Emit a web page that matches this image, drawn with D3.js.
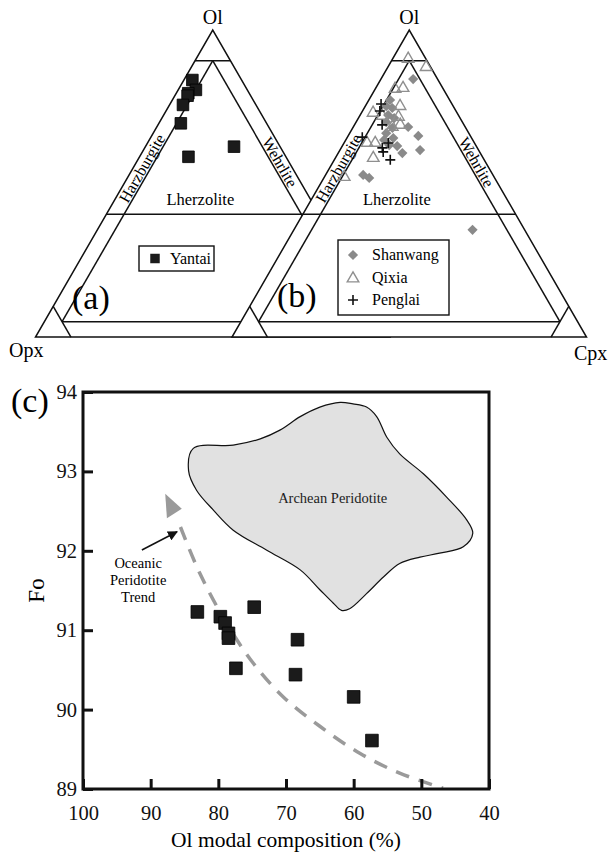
<!DOCTYPE html>
<html>
<head>
<meta charset="utf-8">
<script src="https://cdn.jsdelivr.net/npm/d3@7"></script>
<style>
  body { margin: 0; background: #fff; }
  svg { display: block; font-family: "Liberation Serif", "Times New Roman", serif; }
</style>
</head>
<body>
<svg id="chart"></svg>
<script>
var width = 615, height = 858;

// ternary samples, each [Ol, Opx, Cpx] in %
const yantai = [
  [83.7, 13.9, 2.4], [80.5, 14.5, 5.0], [79.4, 17.2, 3.4], [78.6, 17.8, 3.6],
  [75.6, 20.6, 3.8], [69.6, 24.2, 6.2], [58.7, 27.5, 13.8], [62.0, 13.0, 25.0]
];
const shanwang = [
  [84.0, 6.9, 9.1], [77.2, 16.8, 6.0], [75.2, 18.9, 5.9], [74.6, 17.5, 7.9],
  [72.3, 19.8, 7.9], [71.3, 18.6, 10.1], [70.0, 21.5, 8.5], [68.1, 20.7, 11.2],
  [68.4, 16.1, 15.5], [66.4, 23.3, 10.3], [64.8, 22.1, 13.1], [65.5, 14.7, 19.8],
  [62.5, 24.4, 13.1], [62.2, 22.3, 15.5], [60.9, 16.5, 22.6], [59.9, 22.0, 18.1],
  [52.8, 36.6, 10.6], [51.8, 35.4, 12.8], [34.9, 14.7, 50.4], [64.2, 25.0, 10.8]
];
const qixia = [
  [90.6, 5.0, 4.4], [87.9, 1.3, 10.8], [80.8, 13.6, 5.6], [81.1, 11.2, 7.7],
  [75.2, 15.0, 9.8], [73.0, 23.7, 3.3], [72.0, 21.6, 6.4], [71.7, 17.2, 11.1],
  [68.4, 20.6, 11.0], [69.1, 18.0, 12.9], [63.2, 30.3, 6.5], [63.2, 28.0, 8.8],
  [58.3, 31.0, 10.7], [52.1, 42.3, 5.6]
];
const penglai = [
  [75.9, 20.0, 4.1], [73.6, 21.5, 4.9], [69.1, 23.1, 7.8], [65.1, 30.7, 4.2],
  [61.6, 26.8, 11.6], [63.2, 24.3, 12.5], [60.3, 27.2, 12.5], [57.7, 26.5, 15.8]
];

// panel (c): Yantai olivine mode vs Fo
const olModal = [83.1, 79.7, 79.0, 78.5, 78.5, 77.4, 74.7, 68.3, 68.6, 60.0, 57.3];
const foValue = [91.23, 91.17, 91.09, 90.96, 90.90, 90.52, 91.29, 90.88, 90.44, 90.16, 89.61];

// Archean peridotite field outline
const archeanOl = [83.7, 84.4, 83.2, 80.7, 77.8, 72.9, 67.9, 65.0, 63.0, 61.8, 60.6, 58.1,
  55.6, 53.2, 50.2, 47.3, 43.8, 42.4, 43.3, 46.3, 49.7, 53.2, 55.1, 56.6, 58.1, 60.1,
  62.0, 65.0, 67.9, 70.9, 73.8, 77.8, 81.7];
const archeanFo = [93.29, 93.01, 92.76, 92.51, 92.26, 92.01, 91.76, 91.51, 91.34, 91.25,
  91.27, 91.46, 91.67, 91.84, 91.92, 91.97, 92.05, 92.22, 92.39, 92.68, 92.97, 93.22,
  93.43, 93.69, 93.81, 93.85, 93.87, 93.81, 93.69, 93.52, 93.41, 93.33, 93.30];

// oceanic peridotite trend
const trendOl = [85.6, 82.7, 78.8, 74.8, 70.4, 65.0, 59.1, 53.2, 46.8];
const trendFo = [92.30, 91.71, 91.09, 90.58, 90.16, 89.79, 89.45, 89.20, 89.01];
const trendHeadOl = [87.85, 87.6, 85.4];
const trendHeadFo = [92.72, 92.41, 92.53];
const arrowOl = [91.3, 86.1];
const arrowFo = [92.01, 92.24];

const xTicks = [100, 90, 80, 70, 60, 50, 40];
const yTicks = [89, 90, 91, 92, 93, 94];

var svg = d3.select("#chart").attr("width", width).attr("height", height);

// ---------- ternary panels ----------
const triBase = 337, triHeight = 307, triSide = triHeight * 2 / Math.sqrt(3);
const olScale = d3.scaleLinear().domain([0, 100]).range([triBase, triBase - triHeight]);
const sideScale = d3.scaleLinear().domain([0, 100]).range([0, triSide]);

const fieldLines = [
  [[90, 10, 0], [90, 0, 10]],
  [[40, 60, 0], [40, 0, 60]],
  [[5, 90, 5], [5, 5, 90]],
  [[90, 5, 5], [5, 90, 5]],
  [[90, 5, 5], [5, 5, 90]],
  [[10, 90, 0], [0, 90, 10]],
  [[10, 0, 90], [0, 10, 90]]
];

function tern(x0, p) {
  return [x0 + sideScale(p[2] + p[0] / 2), olScale(p[0])];
}

function drawTernary(x0, name) {
  const g = svg.append("g").attr("class", "ternary " + name);
  const corners = [[0, 100, 0], [0, 0, 100], [100, 0, 0]].map((p) => tern(x0, p));
  g.append("path")
    .attr("d", "M" + corners.join("L") + "Z")
    .attr("fill", "white")
    .attr("stroke", "#111")
    .attr("stroke-width", 1.5);

  g.selectAll("line.field")
    .data(fieldLines)
    .enter()
    .append("line")
    .attr("class", "field")
    .attr("x1", (d) => tern(x0, d[0])[0])
    .attr("y1", (d) => tern(x0, d[0])[1])
    .attr("x2", (d) => tern(x0, d[1])[0])
    .attr("y2", (d) => tern(x0, d[1])[1])
    .attr("stroke", "#111")
    .attr("stroke-width", 1.5);

  const top = tern(x0, [100, 0, 0]);
  g.append("text")
    .attr("x", top[0])
    .attr("y", top[1] - 6)
    .attr("text-anchor", "middle")
    .attr("font-size", 20)
    .text("Ol");

  const hz = tern(x0, [55, 42.5, 2.5]);
  g.append("text")
    .attr("transform", `translate(${hz[0]},${hz[1]}) rotate(-60)`)
    .attr("text-anchor", "middle")
    .attr("dy", "0.36em")
    .attr("font-size", 16)
    .text("Harzburgite");

  const wh = tern(x0, [57, 2.5, 40.5]);
  g.append("text")
    .attr("transform", `translate(${wh[0]},${wh[1]}) rotate(60)`)
    .attr("text-anchor", "middle")
    .attr("dy", "0.36em")
    .attr("font-size", 16)
    .text("Wehrlite");

  const lz = tern(x0, [45, 31, 24]);
  g.append("text")
    .attr("x", lz[0])
    .attr("y", lz[1] + 6)
    .attr("text-anchor", "middle")
    .attr("font-size", 16.5)
    .text("Lherzolite");
  return g;
}

const xa = 35.5, xb = 232;
const ga = drawTernary(xa, "a");

ga.selectAll("path.yantai")
  .data(yantai)
  .enter()
  .append("path")
  .attr("class", "yantai")
  .attr("transform", (d) => `translate(${tern(xa, d)})`)
  .attr("d", d3.symbol(d3.symbolSquare, 135))
  .attr("fill", "#1b1b1b")
  .attr("stroke", "#000")
  .attr("stroke-width", 0.8);

ga.append("text").attr("x", 72).attr("y", 309).attr("font-size", 34).text("(a)");

// legend (a)
ga.append("rect").attr("x", 139).attr("y", 246).attr("width", 75).attr("height", 25)
  .attr("fill", "white").attr("stroke", "#111").attr("stroke-width", 1.4);
ga.append("path").attr("transform", "translate(155,258.5)")
  .attr("d", d3.symbol(d3.symbolSquare, 90)).attr("fill", "#1b1b1b");
ga.append("text").attr("x", 170).attr("y", 264).attr("font-size", 16).text("Yantai");

const gb = drawTernary(xb, "b");

function drawDiamond(g, p) {
  g.append("path")
    .attr("transform", `translate(${p}) rotate(45)`)
    .attr("d", d3.symbol(d3.symbolSquare, 52))
    .attr("fill", "#8a8a8a");
}
function drawTriangle(g, p) {
  g.append("path")
    .attr("transform", `translate(${p})`)
    .attr("d", d3.symbol(d3.symbolTriangle, 58))
    .attr("fill", "none")
    .attr("stroke", "#8f8f8f")
    .attr("stroke-width", 1.4);
}
function drawPlus(g, p) {
  g.append("path")
    .attr("d", `M${p[0] - 5},${p[1]}h10M${p[0]},${p[1] - 5}v10`)
    .attr("stroke", "#111")
    .attr("stroke-width", 1.6);
}

shanwang.forEach((d) => drawDiamond(gb, tern(xb, d)));
qixia.forEach((d) => drawTriangle(gb, tern(xb, d)));
penglai.forEach((d) => drawPlus(gb, tern(xb, d)));

gb.append("text").attr("x", 277).attr("y", 307).attr("font-size", 34).text("(b)");

// legend (b)
gb.append("rect").attr("x", 338).attr("y", 240).attr("width", 111).attr("height", 75)
  .attr("fill", "white").attr("stroke", "#111").attr("stroke-width", 1.4);
drawDiamond(gb, [353, 255]);
drawTriangle(gb, [353, 278.5]);
drawPlus(gb, [353, 300]);
const legB = ["Shanwang", "Qixia", "Penglai"];
gb.selectAll("text.leg")
  .data(legB)
  .enter()
  .append("text")
  .attr("class", "leg")
  .attr("x", 372)
  .attr("y", (d, i) => 260 + i * 22.5)
  .attr("font-size", 16)
  .text((d) => d);

svg.append("text").attr("x", 9).attr("y", 357).attr("font-size", 20).text("Opx");
svg.append("text").attr("x", 574).attr("y", 360).attr("font-size", 20).text("Cpx");

// ---------- panel (c) ----------
const x = d3.scaleLinear().domain([100, 40]).range([83, 489]);
const y = d3.scaleLinear().domain([89, 94]).range([789, 392]);

const gc = svg.append("g").attr("class", "panelC");

const archean = archeanOl.map((d, i) => [d, archeanFo[i]]);
gc.append("path")
  .datum(archean.slice(0, -1))
  .attr("d", d3.line().x((d) => x(d[0])).y((d) => y(d[1])).curve(d3.curveCatmullRomClosed.alpha(0.5)))
  .attr("fill", "#e1e1e1")
  .attr("stroke", "#111")
  .attr("stroke-width", 1.2);

gc.append("text")
  .attr("x", x(63.1))
  .attr("y", y(92.66))
  .attr("dy", "0.35em")
  .attr("text-anchor", "middle")
  .attr("font-size", 14.5)
  .attr("fill", "#222")
  .text("Archean Peridotite");

const trend = trendOl.map((d, i) => [d, trendFo[i]]);
gc.append("path")
  .datum(trend)
  .attr("d", d3.line().x((d) => x(d[0])).y((d) => y(d[1])).curve(d3.curveCatmullRom))
  .attr("fill", "none")
  .attr("stroke", "#9a9a9a")
  .attr("stroke-width", 3.5)
  .attr("stroke-dasharray", "14,10");

gc.append("path")
  .attr("d", "M" + trendHeadOl.map((d, i) => [x(d), y(trendHeadFo[i])]).join("L") + "Z")
  .attr("fill", "#9a9a9a");

svg.append("defs").append("marker")
  .attr("id", "arrowHead")
  .attr("viewBox", "0 0 10 10")
  .attr("refX", 9).attr("refY", 5)
  .attr("markerWidth", 10).attr("markerHeight", 10)
  .attr("markerUnits", "userSpaceOnUse")
  .attr("orient", "auto")
  .append("path").attr("d", "M0,0L10,5L0,10Z").attr("fill", "#111");

gc.append("line")
  .attr("x1", x(arrowOl[0])).attr("y1", y(arrowFo[0]))
  .attr("x2", x(arrowOl[1])).attr("y2", y(arrowFo[1]))
  .attr("stroke", "#111")
  .attr("stroke-width", 1.5)
  .attr("marker-end", "url(#arrowHead)");

const trendLabel = ["Oceanic", "Peridotite", "Trend"];
gc.selectAll("text.trend")
  .data(trendLabel)
  .enter()
  .append("text")
  .attr("class", "trend")
  .attr("x", x(91.85))
  .attr("y", (d, i) => y(91.78) + i * 17)
  .attr("text-anchor", "middle")
  .attr("font-size", 14.5)
  .text((d) => d);

gc.selectAll("path.sample")
  .data(olModal.map((d, i) => [d, foValue[i]]))
  .enter()
  .append("path")
  .attr("class", "sample")
  .attr("transform", (d) => `translate(${x(d[0])},${y(d[1])})`)
  .attr("d", d3.symbol(d3.symbolSquare, 160))
  .attr("fill", "#1b1b1b")
  .attr("stroke", "#000")
  .attr("stroke-width", 0.8);

const xAxis = gc.append("g")
  .attr("transform", `translate(0,${y(89)})`)
  .call(d3.axisBottom(x).tickValues(xTicks).tickSize(-10).tickPadding(16).tickFormat(d3.format("d")));
const yAxis = gc.append("g")
  .attr("transform", `translate(${x(100)},0)`)
  .call(d3.axisLeft(y).tickValues(yTicks).tickSize(-10).tickPadding(6).tickFormat(d3.format("d")));

[xAxis, yAxis].forEach((a) => {
  a.select(".domain").remove();
  a.selectAll(".tick line").attr("stroke", "#111").attr("stroke-width", 3);
  a.selectAll(".tick text")
    .attr("font-family", "Liberation Serif, serif")
    .attr("font-size", 20.5)
    .attr("fill", "#111");
});

gc.append("rect")
  .attr("x", x(100)).attr("y", y(94))
  .attr("width", x(40) - x(100)).attr("height", y(89) - y(94))
  .attr("fill", "none")
  .attr("stroke", "#111")
  .attr("stroke-width", 3);

gc.append("text")
  .attr("x", (x(100) + x(40)) / 2)
  .attr("y", 847)
  .attr("text-anchor", "middle")
  .attr("font-size", 21.5)
  .text("Ol modal composition (%)");

gc.append("text")
  .attr("transform", `translate(44,${(y(89) + y(94)) / 2})rotate(-90)`)
  .attr("text-anchor", "middle")
  .attr("font-size", 23)
  .text("Fo");

gc.append("text").attr("x", 11).attr("y", 412).attr("font-size", 34).text("(c)");
</script>
</body>
</html>
